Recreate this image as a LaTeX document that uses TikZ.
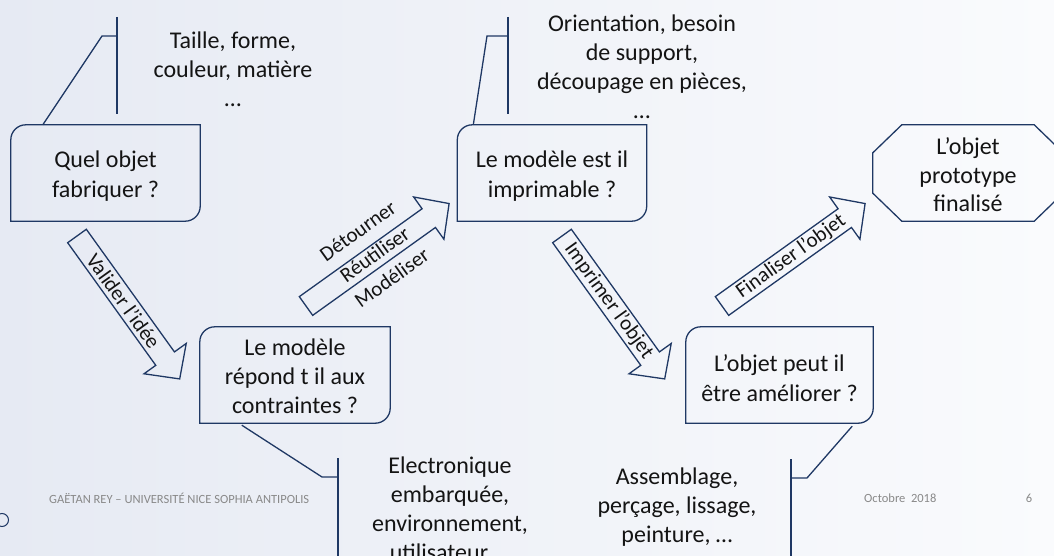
\documentclass[tikz,border=0pt]{standalone}
\usepackage{fontspec}
\setmainfont{Carlito}
\usetikzlibrary{calc}
\definecolor{navy}{RGB}{31,56,100}
\definecolor{bgA}{RGB}{230,234,243}
\definecolor{bgB}{RGB}{250,251,253}
\definecolor{txt}{RGB}{20,20,20}
\definecolor{foot}{RGB}{137,137,137}
\tikzset{
  ln/.style={draw=navy, line width=1.3pt},
  boxtext/.style={align=center, inner sep=0pt, text=txt, font=\fontsize{24}{30}\selectfont},
  notetext/.style={align=center, inner sep=0pt, text=txt, font=\fontsize{24}{29}\selectfont},
  arrowtext/.style={align=center, inner sep=0pt, text=txt, font=\fontsize{21}{29}\selectfont},
  footer/.style={inner sep=0pt, text=foot, font=\fontsize{12.5}{14}\selectfont},
  boxframe/.style={minimum width=189pt, minimum height=96pt, inner sep=0pt}
}
% tail coordinate, angle, text position along, text offset across, text
\newcommand\BlockArrow[5]{%
  \begin{scope}[shift={(#1)}, rotate=#2]
    \draw[ln, line join=miter] (0pt,-11.5pt) -- (151pt,-11.5pt) -- (151pt,-26pt) -- (176pt,0pt)
      -- (151pt,26pt) -- (151pt,11.5pt) -- (0pt,11.5pt) -- cycle;
    \node[arrowtext, rotate=#2] at (#3pt,#4pt) {#5};
  \end{scope}}
% rounded diagonal box drawn around a node
\newcommand\DiagBox[1]{%
  \draw[ln] ($(#1.north west)+(15pt,0pt)$) -- (#1.north east) -- ($(#1.south east)+(0pt,15pt)$)
    arc[start angle=0, end angle=-90, radius=15pt] -- (#1.south west) -- ($(#1.north west)+(0pt,-15pt)$)
    arc[start angle=180, end angle=90, radius=15pt] -- cycle;}
\begin{document}
\begin{tikzpicture}[x=1pt, y=-1pt]
\useasboundingbox (0,0) rectangle (1054,556);
\clip (0,0) rectangle (1054,556);
\shade[left color=bgA, right color=bgB] (0,0) rectangle (1054,556);

% boxes
\node[boxframe] (b1) at (105.5,173) {};
\node[boxtext] at ($(b1.center)+(0pt,-3pt)$) {Quel objet\\fabriquer ?};
\DiagBox{b1}
\node[boxframe] (b2) at (552,173) {};
\node[boxtext] at ($(b2.center)+(0pt,-3pt)$) {Le modèle est il\\imprimable ?};
\DiagBox{b2}
\node[boxframe, minimum width=190pt] (b3) at (295,375) {};
\node[boxtext, font=\fontsize{24}{29}\selectfont] at ($(b3.center)+(0pt,-1pt)$) {Le modèle\\répond t il aux\\contraintes ?};
\DiagBox{b3}
\node[boxframe, minimum width=187pt] (b4) at (779.5,375) {};
\node[boxtext] at ($(b4.center)+(0pt,-3pt)$) {L’objet peut il\\être améliorer ?};
\DiagBox{b4}
\node[boxframe, minimum width=190pt] (b5) at (968,173) {};
\node[boxtext, font=\fontsize{24}{28.5}\selectfont] at ($(b5.center)+(0pt,-2pt)$) {L’objet\\prototype\\finalisé};
\draw[ln] ($(b5.north west)+(29pt,0pt)$) -- ($(b5.north east)+(-29pt,0pt)$) -- ($(b5.north east)+(0pt,-28pt)$)
  -- ($(b5.south east)+(0pt,28pt)$) -- ($(b5.south east)+(-29pt,0pt)$) -- ($(b5.south west)+(29pt,0pt)$)
  -- ($(b5.south west)+(0pt,28pt)$) -- ($(b5.north west)+(0pt,-28pt)$) -- cycle;

% callouts
\coordinate (c1a) at (102,36); \coordinate (c1b) at (117,36);
\coordinate (c1t) at (117,17); \coordinate (c1u) at (117,114);
\draw[ln] ($(b1.north west)+(32pt,0pt)$) -- (c1a) -- (c1b);
\draw[ln] (c1t) -- (c1u);
\node[notetext] (t1) at (233,69) {Taille, forme,\\couleur, matière\\…};

\coordinate (c2a) at (487,36); \coordinate (c2b) at (508,36);
\coordinate (c2t) at (508,17); \coordinate (c2u) at (508,114);
\draw[ln] ($(b2.north west)+(16pt,0pt)$) -- (c2a) -- (c2b);
\draw[ln] (c2t) -- (c2u);
\node[notetext] (t2) at (642,67) {Orientation, besoin\\de support,\\découpage en pièces,\\…};

\coordinate (c3a) at (322,477); \coordinate (c3b) at (338,477);
\coordinate (c3t) at (338,458); \coordinate (c3u) at (338,560);
\draw[ln] ($(b3.south west)+(42pt,-2pt)$) -- (c3a) -- (c3b);
\draw[ln] (c3t) -- (c3u);
\node[notetext] (t3) at (450,509) {Electronique\\embarquée,\\environnement,\\utilisateur …};

\coordinate (c4a) at (807,478); \coordinate (c4b) at (791,478);
\coordinate (c4t) at (791,459); \coordinate (c4u) at (791,560);
\draw[ln] ($(b4.south east)+(-21pt,-3pt)$) -- (c4a) -- (c4b);
\draw[ln] (c4t) -- (c4u);
\node[notetext] (t4) at (677,507) {Assemblage,\\perçage, lissage,\\peinture, …};

% block arrows
\coordinate (a1) at (77,236);
\coordinate (a2) at (306,306);
\coordinate (a3) at (562,236);
\coordinate (a4) at (722,306);
\BlockArrow{a1}{-54.3}{80}{0}{Valider l’idée}
\BlockArrow{a2}{35.6}{86}{2}{Détourner\\Réutiliser\\Modéliser}
\BlockArrow{a3}{-54.3}{80}{0}{Imprimer l’objet}
\BlockArrow{a4}{35.6}{85}{0}{Finaliser l’objet}

% footer
\node[footer, anchor=west] (f1) at (49,498) {GAËTAN REY – UNIVERSITÉ NICE SOPHIA ANTIPOLIS};
\node[footer, anchor=west] (f2) at (864,498) {Octobre\ \ 2018};
\node[footer] (f3) at (1029,498) {6};
\draw[draw=navy, line width=1pt] (2,520) circle[radius=6.5pt];
\end{tikzpicture}
\end{document}
